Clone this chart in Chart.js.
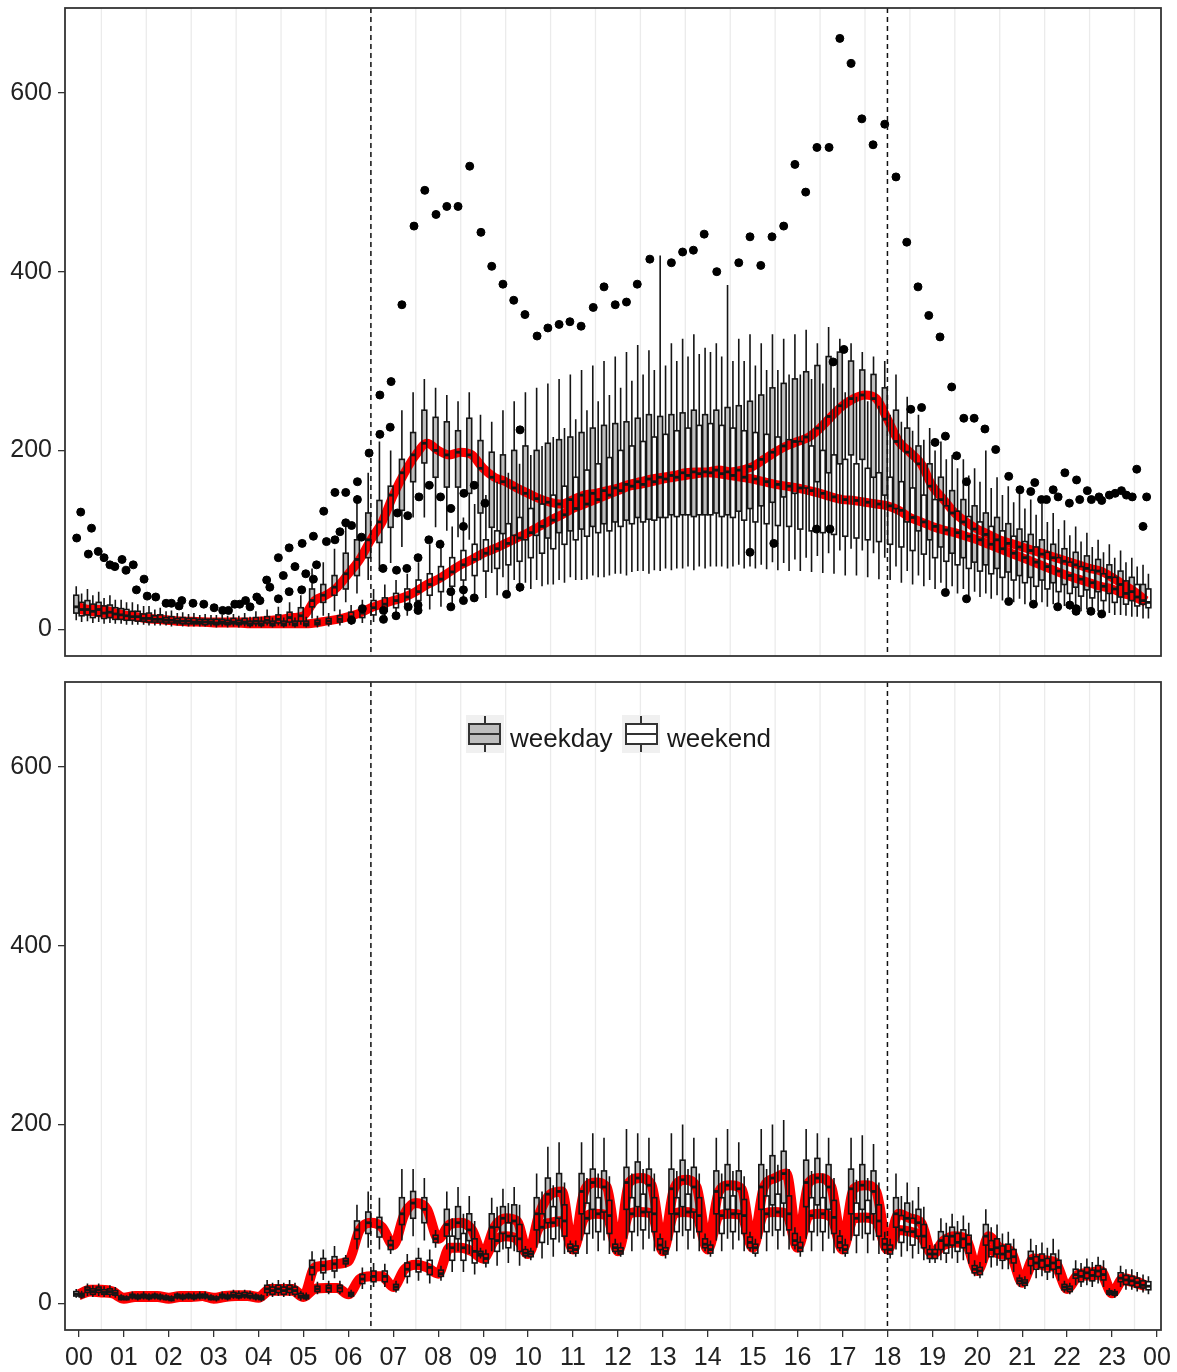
<!DOCTYPE html>
<html>
<head>
<meta charset="utf-8">
<script src="https://cdn.jsdelivr.net/npm/chart.js@4.4.1/dist/chart.umd.min.js"></script>
<style>
html, body { margin: 0; padding: 0; background: #fff; }
body { width: 1177px; height: 1372px; position: relative; overflow: hidden; font-family: "Liberation Sans", Arial, sans-serif; }
.wrap { position: absolute; left: 0; width: 1177px; }
#w1 { top: 0; height: 662px; }
#w2 { top: 672px; height: 700px; }
.key { position: absolute; top: 715px; width: 38px; height: 38px; background: #f0f0f0; }
.key .wh { position: absolute; left: 18px; top: 1px; width: 2px; height: 36px; background: #333; }
.key .bx { position: absolute; left: 2px; top: 8px; width: 33px; height: 22px; border: 2px solid #333; box-sizing: border-box; }
.key .bx::after { content: ""; position: absolute; left: 0; right: 0; top: 8px; height: 2px; background: #333; }
.lab { position: absolute; top: 725px; font-size: 26px; line-height: 26px; color: #1a1a1a; }
</style>
</head>
<body>
<div class="wrap" id="w1"><canvas id="top"></canvas></div>
<div class="wrap" id="w2"><canvas id="bottom"></canvas></div>

<div class="key" style="left:466px"><div class="wh"></div><div class="bx" style="background:#bebebe"></div></div>
<div class="lab" style="left:510px">weekday</div>
<div class="key" style="left:622px"><div class="wh"></div><div class="bx" style="background:#fff;left:3px"></div></div>
<div class="lab" style="left:667px">weekend</div>

<script>
// axis labels / reference lines
const hourLabels = ['00','01','02','03','04','05','06','07','08','09','10','11','12',
                    '13','14','15','16','17','18','19','20','21','22','23','00'];
const yTicks = [0, 200, 400, 600];
const markerLines = [6.5, 18];
// 96 quarter-hour slots (hours)
const times = Array.from({ length: 96 }, (_, i) => i / 4);

// ---- top panel, weekday (grey boxes) ----
const topWdLo  = [10,9,8,7,6,5,5,4,4,4,3,3, 3,3,3,3,3,4,4,4,5,12,15,20, 30,40,55,65,74,92,125,125,114,110,103,100, 77,63,58,55,52,55,50,55,58,55,60,58, 62,60,65,62,65,66,68,66,68,70,68,72, 70,72,75,74,78,80,82,85,88,90,88,85, 80,70,65,60,55,52,48,45,42,40,38,36, 34,32,30,28,26,24,22,20,18,16,14,12];
const topWdQ1  = [18,16,15,13,11,10,9,8,7,7,6,6, 6,6,6,6,6,7,7,8,9,25,30,38, 45,60,80,97,114,133,165,186,170,159,159,152, 130,114,107,105,100,105,102,108,110,112,115,118, 120,122,125,123,125,128,128,126,128,130,128,132, 135,138,142,148,152,158,165,175,185,195,190,170, 150,135,120,110,100,92,85,80,75,72,68,64, 60,58,55,52,50,47,44,42,40,36,32,28];
const topWdMed = [25,22,22,19,16,14,12,11,10,9,9,8, 8,8,8,8,9,10,11,13,15,32,38,47, 62,78,100,120,150,175,195,208,200,195,198,195, 180,170,165,158,152,146,142,140,145,150,152,155, 158,162,165,168,170,172,175,176,176,178,176,178, 182,190,198,205,210,215,225,238,250,258,262,258, 235,210,198,185,160,145,130,120,112,106,100,96, 92,88,84,80,76,72,68,65,58,50,42,32];
const topWdQ3  = [38,32,30,27,23,20,17,15,13,12,12,11, 11,11,12,12,13,14,16,19,24,45,50,60, 85,100,130,144,160,190,220,245,237,232,222,236, 211,198,195,200,205,200,208,212,215,220,225,228, 230,232,236,240,238,240,242,245,240,245,248,250, 255,262,270,275,280,288,295,305,310,300,290,285, 270,245,225,205,185,170,155,145,138,130,125,118, 112,106,100,95,90,86,82,78,72,65,58,50];
const topWdHi  = [48,45,42,38,33,30,26,22,20,18,17,16, 16,16,17,18,20,22,25,30,38,68,75,90, 120,150,175,210,200,245,265,280,270,262,255,265, 240,232,245,255,265,270,275,280,285,290,295,300, 305,310,318,312,418,320,325,330,315,320,385,325, 330,320,330,325,330,335,320,338,325,320,310,305, 300,285,260,240,225,210,195,190,180,200,170,160, 155,145,140,130,122,115,108,100,95,88,80,72];

// ---- top panel, weekend (white boxes) ----
const topWeLo  = [8,7,6,6,5,5,4,4,3,3,3,3, 2,2,2,2,2,2,2,2,2,2,3,4, 5,7,8,10,12,15,18,22,25,28,30,32, 35,38,40,42,45,48,50,52,55,56,58,60, 62,64,65,66,68,68,70,70,70,70,70,68, 68,67,66,65,65,64,63,62,60,60,58,56, 55,52,50,48,45,42,40,38,36,34,32,30, 28,26,25,24,22,20,19,18,16,15,14,12];
const topWeQ1  = [15,13,12,11,10,9,8,8,7,6,6,5, 5,5,5,4,4,4,4,4,4,5,6,8, 10,13,16,20,24,28,32,38,42,48,55,60, 65,68,72,76,80,85,90,95,100,104,108,110, 115,118,120,122,125,126,128,128,128,126,125,122, 120,118,116,115,112,110,108,106,104,102,100,98, 95,92,88,84,80,76,72,68,65,62,58,55, 52,48,45,42,40,37,35,32,30,28,26,24];
const topWeMed = [22,20,18,17,15,14,12,11,10,9,8,8, 7,7,7,6,6,6,6,6,6,7,9,11, 14,18,24,28,32,36,42,50,56,64,72,78, 85,90,96,102,108,115,122,128,135,140,145,150, 155,160,162,165,168,170,172,174,175,174,172,170, 168,165,162,160,158,155,152,148,145,144,142,140, 138,133,125,120,115,111,108,104,100,95,90,85, 80,75,70,65,60,56,52,48,45,40,36,30];
const topWeQ3  = [30,28,26,24,22,20,18,16,14,13,12,11, 11,10,10,9,9,9,9,9,9,10,12,15, 19,24,32,35,40,45,55,62,70,80,88,95, 100,110,118,125,135,140,150,160,170,178,185,192, 200,205,210,215,218,222,225,228,230,228,225,222, 220,218,215,212,210,205,200,195,190,185,180,175, 170,165,158,150,145,138,132,126,120,115,110,104, 98,92,86,80,75,70,66,62,58,54,50,45];
const topWeHi  = [40,38,35,33,30,28,26,24,21,19,18,17, 16,15,15,14,14,13,13,13,14,15,18,22, 27,33,45,50,55,62,75,95,100,115,125,140, 150,165,175,185,195,205,215,225,235,245,255,262, 270,278,285,290,295,300,305,308,310,305,300,300, 295,290,290,285,285,280,275,270,265,260,255,250, 240,232,222,212,200,190,180,172,165,158,150,142, 135,128,120,112,105,98,92,86,80,75,70,62];

// ---- bottom panel, weekday ----
const botWdLo  = [6,8,8,7,3,4,4,4,3,4,4,4, 3,4,5,5,3,8,8,8,3,25,26,28, 40,60,62,60,55,70,75,70,62,60,58,55, 50,58,60,58,50,62,65,68,55,70,72,70, 55,72,75,72,55,70,75,72,58,70,72,70, 58,72,75,75,60,72,75,72,58,70,72,70, 55,60,58,55,45,48,50,48,30,45,42,38, 18,32,30,28,12,20,20,22,8,18,15,12];
const botWdQ1  = [8,12,12,10,4,6,6,6,4,6,6,6, 4,6,7,7,5,12,12,12,6,32,34,36, 44,72,78,74,60,88,95,90,68,75,72,70, 53,72,78,75,53,82,90,95,58,100,105,102, 58,105,108,102,60,100,108,102,62,100,105,100, 62,105,110,112,65,108,110,105,62,100,105,100, 60,85,80,75,50,60,65,62,34,65,55,50, 22,42,40,38,15,28,28,30,10,24,20,17];
const botWdMed = [10,15,15,13,6,8,8,8,6,8,8,8, 6,8,9,9,7,16,16,16,8,40,42,44, 47,82,90,85,65,100,112,105,72,88,90,82, 55,85,95,92,56,100,122,125,62,125,135,130, 62,135,140,132,65,128,138,130,66,125,132,128, 68,130,140,145,70,135,140,130,68,128,132,125, 66,100,95,90,55,70,75,72,38,75,62,58, 25,50,48,45,18,32,34,36,12,28,25,20];
const botWdQ3  = [13,18,18,16,8,10,10,10,8,10,10,10, 8,10,12,12,9,20,20,20,11,48,50,52, 50,92,102,96,70,118,125,118,76,105,108,100, 58,100,108,110,60,118,140,145,66,145,150,148, 66,152,158,150,72,150,160,152,72,148,155,148, 74,155,165,170,78,160,162,155,75,150,155,148, 72,118,112,105,60,80,85,82,42,88,72,66, 28,58,55,55,21,38,40,42,14,34,30,25];
const botWdHi  = [16,22,22,20,10,13,13,12,10,12,12,13, 10,13,15,15,11,26,26,26,14,58,60,64, 54,110,125,118,75,150,150,140,82,125,130,120, 62,118,128,130,64,145,175,180,70,180,190,185, 72,195,190,185,78,190,200,185,78,185,195,180, 80,195,200,205,85,195,190,185,82,185,188,178, 80,145,135,130,65,95,100,98,48,105,88,80, 32,72,68,72,25,48,50,52,17,42,38,32];

// ---- bottom panel, weekend ----
const botWeLo  = [5,7,7,6,3,3,3,3,2,3,3,4, 2,3,4,4,2,7,7,7,3,10,10,10, 6,16,18,18,12,22,25,22,25,35,35,32, 40,42,45,42,48,50,52,55,52,55,58,55, 52,58,60,58,50,58,60,58,52,58,60,58, 52,58,60,60,52,58,58,56,52,56,56,55, 50,52,50,48,45,45,45,44,28,40,38,35, 16,28,26,25,10,18,18,18,6,15,13,10];
const botWeQ1  = [7,10,10,9,4,5,5,5,3,5,5,6, 4,5,6,6,4,10,10,10,5,13,13,13, 8,22,24,24,15,30,35,32,30,48,48,45, 45,58,62,58,52,68,72,75,56,78,80,78, 55,80,82,80,55,80,82,80,56,78,80,78, 56,80,82,82,58,80,80,78,56,76,78,75, 55,68,65,62,50,56,58,56,32,52,48,45, 20,38,35,33,13,24,25,26,9,21,18,15];
const botWeMed = [9,13,12,11,5,7,7,7,5,7,7,8, 5,7,8,8,6,14,14,14,7,16,17,17, 10,27,30,30,18,38,43,40,33,62,62,58, 50,70,75,72,55,85,90,92,60,95,100,98, 58,100,102,100,58,100,102,98,60,98,100,98, 62,100,102,100,62,98,100,96,60,95,96,92, 60,82,80,75,55,65,68,66,36,60,55,52, 23,45,42,40,16,30,31,32,11,26,23,19];
const botWeQ3  = [11,16,15,14,7,9,9,9,7,9,9,10, 7,9,11,11,8,18,18,18,9,19,20,20, 12,32,36,36,21,45,50,48,37,75,78,72, 55,85,90,88,58,100,108,110,64,112,118,115, 62,118,122,118,62,118,122,118,65,118,120,116, 66,120,122,120,68,118,118,115,65,112,115,110, 65,98,95,88,60,75,78,76,40,70,64,60, 26,52,50,48,19,36,37,38,13,31,28,24];
const botWeHi  = [14,20,19,18,9,11,11,11,9,11,12,13, 9,12,14,14,10,23,23,23,12,24,25,25, 15,40,45,44,25,55,62,60,42,95,100,92, 60,108,112,110,62,125,132,135,70,140,145,142, 68,145,150,145,70,148,150,145,70,145,148,142, 72,150,155,150,75,148,145,140,72,138,140,135, 72,120,115,108,66,90,92,90,46,85,78,72, 30,65,62,60,23,45,46,48,16,38,35,30];

// outliers of the top panel: [hour, value]
const topOutliers = [
  [-0.05,102],[0.04,131],[0.28,113],[0.21,84],[0.43,87],[0.56,80],[0.69,72],[0.80,70],[0.96,78],[1.05,66],
  [1.21,72],[1.28,44],[1.45,56],[1.52,37],[1.71,36],[1.94,29],[2.06,29],[2.29,32],[2.23,26],[2.54,29],
  [2.78,28],[3.01,24],[3.20,21],[3.33,21],[3.47,28],[3.58,28],[3.71,32],[3.81,25],[3.96,36],[4.03,32],
  [4.18,55],[4.25,47],[4.44,80],[4.55,60],[4.44,34],[4.68,91],[4.81,70],[4.68,42],[4.97,96],[5.05,62],
  [4.96,44],[5.22,104],[5.29,72],[5.22,56],[5.45,132],[5.51,98],[5.70,153],[5.70,100],[5.94,153],[5.81,109],
  [5.94,119],[6.07,116],[6.20,165],[6.20,145],[6.29,103],[6.46,197],[6.70,262],[6.95,277],[6.70,218],[6.93,226],
  [7.09,130],[7.32,127],[7.57,148],[7.80,161],[8.05,148],[8.28,135],[8.57,152],[8.80,161],[8.56,115],[9.04,141],
  [9.82,223],[7.79,100],[8.04,95],[7.55,80],[6.77,68],[7.07,66],[7.30,68],[8.28,42],[8.56,44],[8.28,25],
  [8.56,32],[8.80,35],[9.52,39],[9.82,47],[7.33,25],[7.55,27],[7.55,21],[7.06,15],[6.78,21],[6.78,11],
  [6.31,23],[6.07,10],
  [7.19,363],[7.46,451],[7.70,491],[7.95,464],[8.19,473],[8.44,473],[8.70,518],[8.95,444],[9.19,406],[9.44,386],
  [9.68,368],[9.93,352],[10.20,328],[10.44,337],[10.69,341],[10.93,344],[11.18,339],[11.45,360],[11.69,383],[11.94,363],
  [12.19,366],[12.43,386],[12.71,414],[13.19,410],[13.44,422],[13.68,424],[13.92,442],[14.20,400],[14.69,410],[14.94,439],
  [15.18,407],[15.43,439],[15.69,451],[15.94,520],[16.18,489],[16.43,539],[16.70,539],[16.94,661],[17.19,633],[17.43,571],
  [17.68,542],[17.94,565],[18.19,506],[18.43,433],[18.68,383],[18.92,351],[19.17,327],[19.43,271],
  [18.52,246],[18.76,248],[19.70,236],[19.93,236],[20.17,224],[20.41,201],[19.29,216],[19.06,209],[19.54,194],[19.76,165],
  [16.79,299],[17.03,313],[14.94,86],[15.47,96],[16.42,112],[16.72,112],[19.29,41],[19.76,34],
  [20.70,171],[20.95,156],[21.19,154],[21.28,164],[21.43,145],[21.54,145],[21.69,156],[21.80,148],[21.95,175],[22.05,141],
  [22.21,167],[22.28,145],[22.45,155],[22.54,145],[22.71,148],[22.77,144],[22.94,150],[23.07,152],[23.21,155],[23.32,150],
  [23.45,148],[23.55,179],[23.77,148],[23.69,115],
  [20.70,31],[21.25,28],[21.79,25],[22.06,27],[22.20,20],[22.20,23],[22.53,20],[22.77,17]
];
const botOutliers = [];

// box groups per panel (weekday dodged left, weekend right)
const panelGroups = {
  top: [
    { lo: topWdLo, q1: topWdQ1, med: topWdMed, q3: topWdQ3, hi: topWdHi, fill: '#bebebe', dx: -0.06 },
    { lo: topWeLo, q1: topWeQ1, med: topWeMed, q3: topWeQ3, hi: topWeHi, fill: '#ffffff', dx: 0.06 }
  ],
  bottom: [
    { lo: botWdLo, q1: botWdQ1, med: botWdMed, q3: botWdQ3, hi: botWdHi, fill: '#bebebe', dx: -0.06 },
    { lo: botWeLo, q1: botWeQ1, med: botWeMed, q3: botWeQ3, hi: botWeHi, fill: '#ffffff', dx: 0.06 }
  ]
};

const BOX_HALF = 0.054;

// pixel geometry of one box, from the chart scales
function boxGeom(x, y, g, t, i) {
  return {
    xm: x.getPixelForValue(t + g.dx),
    xl: x.getPixelForValue(t + g.dx - BOX_HALF),
    xr: x.getPixelForValue(t + g.dx + BOX_HALF),
    lo: y.getPixelForValue(g.lo[i]),
    q1: y.getPixelForValue(g.q1[i]),
    med: y.getPixelForValue(g.med[i]),
    q3: y.getPixelForValue(g.q3[i]),
    hi: y.getPixelForValue(g.hi[i])
  };
}

const panelDecor = {
  id: 'panelDecor',
  beforeDatasetsDraw(chart) {
    // light vertical grid between hour ticks
    const { ctx, chartArea: a, scales: { x } } = chart;
    ctx.save();
    ctx.strokeStyle = '#ebebeb';
    ctx.lineWidth = 1.3;
    for (let h = 0; h < 24; h++) {
      const px = x.getPixelForValue(h + 0.5);
      ctx.beginPath();
      ctx.moveTo(px, a.top);
      ctx.lineTo(px, a.bottom);
      ctx.stroke();
    }
    ctx.restore();
  },
  beforeDatasetDraw(chart, args) {
    const { ctx, scales: { x, y } } = chart;
    const groups = panelGroups[chart.canvas.id];
    if (args.index === 1) {
      // box fills go under the red median lines
      ctx.save();
      times.forEach((t, i) => {
        groups.forEach(g => {
          const b = boxGeom(x, y, g, t, i);
          ctx.fillStyle = g.fill;
          ctx.fillRect(b.xl, b.q3, b.xr - b.xl, b.q1 - b.q3);
        });
      });
      ctx.restore();
    } else if (args.index === 2) {
      // outlines, whiskers and medians go over them
      ctx.save();
      ctx.strokeStyle = '#151515';
      times.forEach((t, i) => {
        groups.forEach(g => {
          const b = boxGeom(x, y, g, t, i);
          ctx.lineWidth = 1.6;
          ctx.beginPath();
          ctx.moveTo(b.xm, b.hi); ctx.lineTo(b.xm, b.q3);
          ctx.moveTo(b.xm, b.q1); ctx.lineTo(b.xm, b.lo);
          ctx.stroke();
          ctx.strokeRect(b.xl, b.q3, b.xr - b.xl, b.q1 - b.q3);
          ctx.lineWidth = 2.8;
          ctx.beginPath();
          ctx.moveTo(b.xl, b.med); ctx.lineTo(b.xr, b.med);
          ctx.stroke();
        });
      });
      ctx.restore();
    }
  },
  afterDatasetsDraw(chart) {
    const { ctx, chartArea: a, scales: { x } } = chart;
    ctx.save();
    ctx.strokeStyle = '#111';
    ctx.lineWidth = 1.5;
    ctx.setLineDash([5, 4]);
    markerLines.forEach(h => {
      const px = x.getPixelForValue(h);
      ctx.beginPath();
      ctx.moveTo(px, a.top);
      ctx.lineTo(px, a.bottom);
      ctx.stroke();
    });
    ctx.restore();
  },
  afterDraw(chart) {
    const { ctx, chartArea: a } = chart;
    ctx.save();
    ctx.strokeStyle = '#333';
    ctx.lineWidth = 1.8;
    ctx.strokeRect(a.left, a.top, a.right - a.left, a.bottom - a.top);
    ctx.restore();
  }
};

function medianLine(med, width, order) {
  return {
    type: 'line',
    data: times.map((t, i) => ({ x: t, y: med[i] })),
    borderColor: '#ff0000',
    borderWidth: width,
    pointRadius: 0,
    cubicInterpolationMode: 'monotone',
    order: order
  };
}

function makePanel(id, groups, outliers, showX, pad, redWidth) {
  const ctx = document.getElementById(id).getContext('2d');
  return new Chart(ctx, {
    type: 'line',
    data: {
      datasets: [
        medianLine(groups[0].med, redWidth, 3),
        medianLine(groups[1].med, redWidth, 4),
        {
          type: 'scatter',
          data: outliers.map(p => ({ x: p[0], y: p[1] })),
          backgroundColor: '#000',
          borderColor: '#000',
          pointRadius: 4,
          pointStyle: 'circle',
          order: 1
        }
      ]
    },
    options: {
      responsive: true,
      maintainAspectRatio: false,
      animation: false,
      devicePixelRatio: 1,
      layout: { padding: pad },
      plugins: { legend: { display: false }, tooltip: { enabled: false } },
      scales: {
        x: {
          type: 'linear',
          min: -0.31,
          max: 24.09,
          display: showX,
          afterBuildTicks: s => { s.ticks = hourLabels.map((_, i) => ({ value: i })); },
          afterFit: s => {
            s.height = showX ? 42 : 0;
            s.paddingLeft = 0;
            s.paddingRight = 0;
          },
          ticks: {
            autoSkip: false,
            maxRotation: 0,
            padding: 6,
            color: '#222',
            font: { family: 'Liberation Sans, Arial, sans-serif', size: 25 },
            callback: (v, i) => hourLabels[i]
          },
          grid: { drawOnChartArea: false, tickLength: 7, color: '#333', lineWidth: 1.3 },
          border: { display: false }
        },
        y: {
          min: -30,
          max: 695,
          afterBuildTicks: s => { s.ticks = yTicks.map(v => ({ value: v })); },
          afterFit: s => {
            s.width = 65;
            s.paddingTop = 0;
            s.paddingBottom = 0;
          },
          ticks: {
            padding: 6,
            color: '#222',
            font: { family: 'Liberation Sans, Arial, sans-serif', size: 25 },
            callback: v => String(v)
          },
          grid: { drawOnChartArea: false, tickLength: 7, color: '#333', lineWidth: 1.3 },
          border: { display: false }
        }
      }
    },
    plugins: [panelDecor]
  });
}

makePanel('top', panelGroups.top, topOutliers, false, { top: 8, right: 16, bottom: 6, left: 0 }, 9);
makePanel('bottom', panelGroups.bottom, botOutliers, true, { top: 10, right: 16, bottom: 0, left: 0 }, 10);
</script>
</body>
</html>
